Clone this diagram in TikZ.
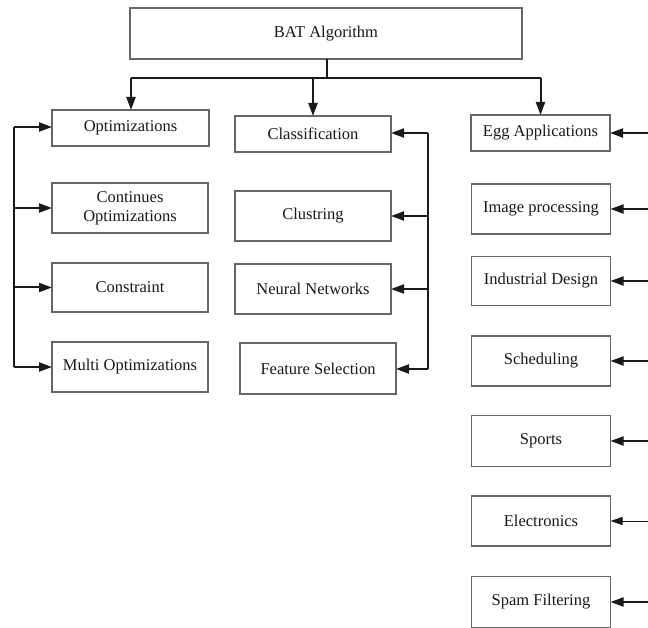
\documentclass[tikz,border=0pt]{standalone}
\usepackage{fontspec}
\setmainfont{Liberation Serif}
\usetikzlibrary{arrows.meta}

\begin{document}
\begin{tikzpicture}[x=1pt,y=-1pt,
  box/.style={draw=black!60, line width=1.6pt, fill=white, inner sep=0pt, outer sep=0pt,
              align=center, font=\fontsize{16.5}{19}\selectfont, text=black!90},
  wire/.style={line width=2pt, black!90},
  feed/.style={wire, -{Triangle[length=13pt,width=9pt]}},
  thinfeed/.style={line width=1pt, black!90, -{Triangle[length=12pt,width=8pt]}}]
  \useasboundingbox (0,0) rectangle (648,628);

  % root
  \node[box, minimum width=392pt, minimum height=51pt] (bat) at (326,33.5) {BAT Algorithm};

  % optimization column
  \node[box, minimum width=157pt, minimum height=36pt] (opt)   at (130.5,128) {Optimizations};
  \node[box, minimum width=156pt, minimum height=50pt] (cont)  at (130,208)   {Continues\\Optimizations};
  \node[box, minimum width=156pt, minimum height=49pt] (cons)  at (130,287.5) {Constraint};
  \node[box, minimum width=156pt, minimum height=50pt] (multi) at (130,367)   {Multi Optimizations};

  % learning column
  \node[box, minimum width=156pt, minimum height=36pt] (cls) at (313,134)   {Classification};
  \node[box, minimum width=156pt, minimum height=50pt] (clu) at (313,216)   {Clustring};
  \node[box, minimum width=156pt, minimum height=50pt] (nn)  at (313,289)   {Neural Networks};
  \node[box, minimum width=156pt, minimum height=51pt] (fs)  at (318,368.5) {Feature Selection};

  % application column
  \node[box, minimum width=139pt, minimum height=36pt] (egg)   at (540.5,133) {Egg Applications};
  \node[box, minimum width=139pt, minimum height=50pt] (img)   at (541,209)   {Image processing};
  \node[box, minimum width=139pt, minimum height=49pt] (ind)   at (541,281)   {Industrial Design};
  \node[box, minimum width=139pt, minimum height=50pt] (sch)   at (541,361)   {Scheduling};
  \node[box, minimum width=139pt, minimum height=51pt] (sport) at (541,441)   {Sports};
  \node[box, minimum width=139pt, minimum height=50pt] (elec)  at (541,521)   {Electronics};
  \node[box, minimum width=139pt, minimum height=51pt] (spam)  at (541,602)   {Spam Filtering};

  % bus below the root
  \coordinate (tj)   at (327,78);
  \coordinate (busL) at (131,78);
  \coordinate (busR) at (541,78);
  \draw[wire] (bat.south -| tj) -- (tj);
  \draw[wire] (busL) -- (busR);
  \draw[feed] (busL) -- (busL |- opt.north);
  \draw[feed] (cls.north |- tj) -- (cls.north);
  \draw[feed] (egg.north |- tj) -- (egg.north);

  % left bracket
  \coordinate (lt) at (14,127);
  \coordinate (lb) at (14,367);
  \draw[wire] (lt) -- (lb);
  \draw[feed] (lt) -- (opt.west |- lt);
  \draw[feed] (cont.west -| lt) -- (cont.west);
  \draw[feed] (cons.west -| lt) -- (cons.west);
  \draw[feed] (lb) -- (multi.west |- lb);

  % middle bracket
  \coordinate (mt) at (428,133);
  \coordinate (mb) at (428,369);
  \draw[wire] (mt) -- (mb);
  \draw[feed] (mt) -- (cls.east |- mt);
  \draw[feed] (clu.east -| mt) -- (clu.east);
  \draw[feed] (nn.east -| mt) -- (nn.east);
  \draw[feed] (mb) -- (fs.east |- mb);

  % feeds from the right edge
  \coordinate (edge) at (648,0);
  \draw[feed] (egg.east -| edge) -- (egg.east);
  \draw[feed] (img.east -| edge) -- (img.east);
  \draw[feed] (ind.east -| edge) -- (ind.east);
  \draw[feed] (sch.east -| edge) -- (sch.east);
  \draw[feed] (sport.east -| edge) -- (sport.east);
  \draw[thinfeed] (elec.east -| edge) -- (elec.east);
  \draw[feed] (spam.east -| edge) -- (spam.east);
\end{tikzpicture}
\end{document}
